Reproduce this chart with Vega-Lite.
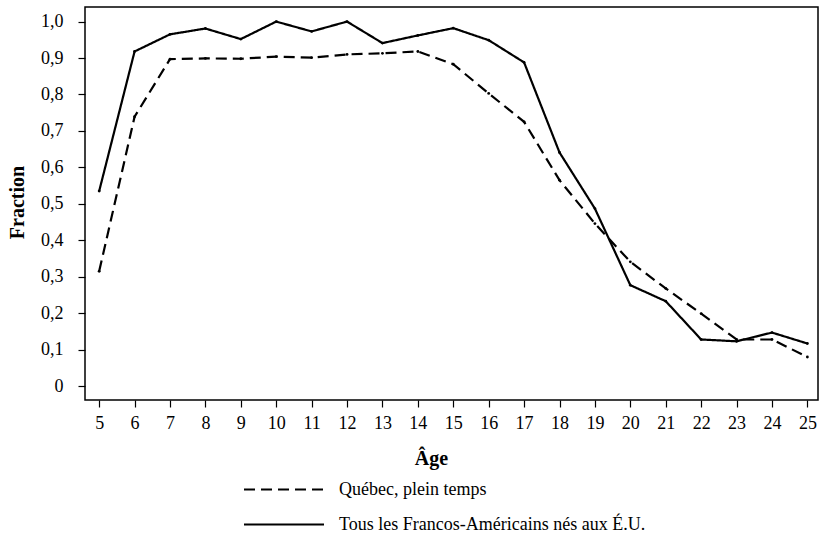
{
  "$schema": "https://vega.github.io/schema/vega-lite/v6.json",
  "width": 733,
  "height": 393,
  "autosize": {"type": "none"},
  "padding": {"left": 85, "top": 7, "right": 1, "bottom": 135},
  "background": "white",
  "config": {
    "view": {"stroke": "black", "strokeWidth": 1.5},
    "font": "Liberation Serif",
    "axis": {"grid": false, "domain": false, "tickColor": "black", "tickWidth": 1.2, "tickSize": 7, "labelFont": "Liberation Serif", "labelFontSize": 18, "labelColor": "black", "titleFont": "Liberation Serif", "titleFontSize": 20, "titleColor": "black", "titleFontWeight": "bold"}
  },
  "data": {"values": [
    {"age": 5, "s": "Québec, plein temps", "v": 0.315},
    {"age": 6, "s": "Québec, plein temps", "v": 0.739},
    {"age": 7, "s": "Québec, plein temps", "v": 0.897},
    {"age": 8, "s": "Québec, plein temps", "v": 0.899},
    {"age": 9, "s": "Québec, plein temps", "v": 0.898},
    {"age": 10, "s": "Québec, plein temps", "v": 0.904},
    {"age": 11, "s": "Québec, plein temps", "v": 0.901},
    {"age": 12, "s": "Québec, plein temps", "v": 0.910},
    {"age": 13, "s": "Québec, plein temps", "v": 0.913},
    {"age": 14, "s": "Québec, plein temps", "v": 0.918},
    {"age": 15, "s": "Québec, plein temps", "v": 0.883},
    {"age": 16, "s": "Québec, plein temps", "v": 0.803},
    {"age": 17, "s": "Québec, plein temps", "v": 0.725},
    {"age": 18, "s": "Québec, plein temps", "v": 0.565},
    {"age": 19, "s": "Québec, plein temps", "v": 0.446},
    {"age": 20, "s": "Québec, plein temps", "v": 0.341},
    {"age": 21, "s": "Québec, plein temps", "v": 0.268},
    {"age": 22, "s": "Québec, plein temps", "v": 0.199},
    {"age": 23, "s": "Québec, plein temps", "v": 0.128},
    {"age": 24, "s": "Québec, plein temps", "v": 0.128},
    {"age": 25, "s": "Québec, plein temps", "v": 0.080},
    {"age": 5, "s": "Tous les Francos-Américains nés aux É.U.", "v": 0.535},
    {"age": 6, "s": "Tous les Francos-Américains nés aux É.U.", "v": 0.918},
    {"age": 7, "s": "Tous les Francos-Américains nés aux É.U.", "v": 0.965},
    {"age": 8, "s": "Tous les Francos-Américains nés aux É.U.", "v": 0.981},
    {"age": 9, "s": "Tous les Francos-Américains nés aux É.U.", "v": 0.952},
    {"age": 10, "s": "Tous les Francos-Américains nés aux É.U.", "v": 1.0},
    {"age": 11, "s": "Tous les Francos-Américains nés aux É.U.", "v": 0.973},
    {"age": 12, "s": "Tous les Francos-Américains nés aux É.U.", "v": 1.0},
    {"age": 13, "s": "Tous les Francos-Américains nés aux É.U.", "v": 0.941},
    {"age": 14, "s": "Tous les Francos-Américains nés aux É.U.", "v": 0.962},
    {"age": 15, "s": "Tous les Francos-Américains nés aux É.U.", "v": 0.982},
    {"age": 16, "s": "Tous les Francos-Américains nés aux É.U.", "v": 0.949},
    {"age": 17, "s": "Tous les Francos-Américains nés aux É.U.", "v": 0.888},
    {"age": 18, "s": "Tous les Francos-Américains nés aux É.U.", "v": 0.641},
    {"age": 19, "s": "Tous les Francos-Américains nés aux É.U.", "v": 0.487},
    {"age": 20, "s": "Tous les Francos-Américains nés aux É.U.", "v": 0.277},
    {"age": 21, "s": "Tous les Francos-Américains nés aux É.U.", "v": 0.233},
    {"age": 22, "s": "Tous les Francos-Américains nés aux É.U.", "v": 0.128},
    {"age": 23, "s": "Tous les Francos-Américains nés aux É.U.", "v": 0.123},
    {"age": 24, "s": "Tous les Francos-Américains nés aux É.U.", "v": 0.147},
    {"age": 25, "s": "Tous les Francos-Américains nés aux É.U.", "v": 0.117}
  ]},
  "encoding": {
    "x": {"field": "age", "type": "quantitative", "title": "Âge",
      "scale": {"domain": [4.6, 25.3], "nice": false, "zero": false},
      "axis": {"values": [5,6,7,8,9,10,11,12,13,14,15,16,17,18,19,20,21,22,23,24,25], "labelPadding": 7, "labelFlush": false, "titleX": 346, "titleY": 58, "titleBaseline": "middle"}},
    "y": {"field": "v", "type": "quantitative", "title": "Fraction",
      "scale": {"domain": [-0.038, 1.04], "nice": false, "zero": false},
      "axis": {"values": [0,0.1,0.2,0.3,0.4,0.5,0.6,0.7,0.8,0.9,1.0], "labelExpr": "datum.value == 0 ? '0' : replace(format(datum.value, '.1f'), '.', ',')", "labelPadding": 15, "labelFlush": false, "titleX": -68, "titleY": 195, "titleAngle": -90, "titleBaseline": "middle", "titleAlign": "center"}}
  },
  "layer": [
    {
      "mark": {"type": "line", "color": "black", "strokeWidth": 2.2},
      "encoding": {
        "strokeDash": {"field": "s", "type": "nominal",
          "scale": {"domain": ["Québec, plein temps", "Tous les Francos-Américains nés aux É.U."], "range": [[11, 6], [1, 0]]},
          "legend": {"title": null, "orient": "none", "legendX": 187.5, "legendY": 471, "padding": 0, "symbolType": "M-4,0L4,0", "symbolSize": 400, "symbolStrokeWidth": 2.2, "symbolStrokeColor": "black", "symbolFillColor": "transparent", "labelFont": "Liberation Serif", "labelFontSize": 18, "labelColor": "black", "rowPadding": 14, "labelOffset": 43.5, "labelLimit": 500}
        }
      }
    },
    {
      "mark": {"type": "point", "filled": true, "color": "black", "size": 8, "opacity": 1},
      "encoding": {"detail": {"field": "s"}}
    }
  ]
}
